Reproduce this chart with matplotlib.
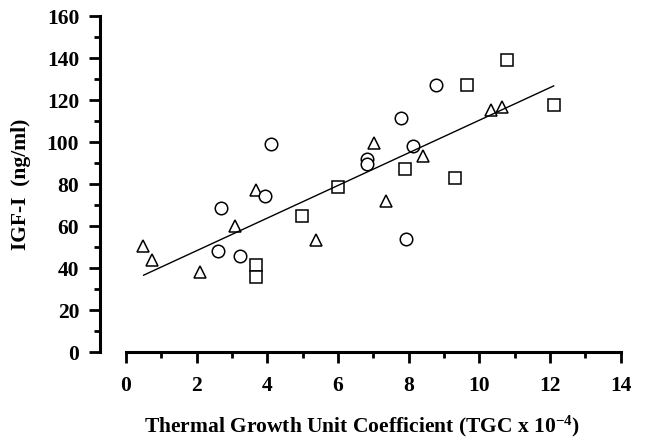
import matplotlib
matplotlib.use("Agg")
import matplotlib.pyplot as plt
import numpy as np
from matplotlib.ticker import MultipleLocator

plt.rcParams["font.family"] = ["Liberation Serif", "DejaVu Serif"]
plt.rcParams["font.weight"] = "bold"
plt.rcParams["mathtext.fontset"] = "custom"
plt.rcParams["mathtext.rm"] = "Liberation Serif:bold"
plt.rcParams["mathtext.bf"] = "Liberation Serif:bold"
plt.rcParams["mathtext.it"] = "Liberation Serif:bold"

# TGC (x 10^-4) and plasma IGF-I (ng/ml) per group
tgc_tri = [0.49, 0.74, 2.09, 3.09, 3.68, 5.39, 7.01, 7.37, 8.39, 10.32, 10.64]
igf_tri = [50.5, 43.8, 37.9, 60.2, 77.1, 53.3, 99.7, 72.1, 93.5, 115.2, 116.5]

tgc_circ = [2.61, 2.69, 3.23, 3.92, 4.10, 6.83, 6.83, 7.77, 8.13, 7.93, 8.76]
igf_circ = [48.1, 68.4, 45.9, 74.1, 98.9, 91.9, 89.5, 111.6, 98.0, 54.0, 127.3]

tgc_sq = [3.69, 3.69, 4.99, 5.99, 7.90, 9.30, 9.65, 10.79, 12.10]
igf_sq = [41.4, 35.9, 64.8, 78.4, 87.1, 83.0, 127.0, 139.0, 117.6]

# regression line
intercept = 32.7
slope = 7.77
fit_x = [0.5, 12.1]

fig = plt.figure(figsize=(6.45, 4.4), dpi=100)
ax = fig.add_axes([0.155, 0.2, 0.813, 0.7636])

mk = dict(linestyle="none", markerfacecolor="white", markeredgecolor="black",
          markeredgewidth=1.1, clip_on=False)
ax.plot(tgc_tri, igf_tri, marker="^", markersize=8.5, **mk)
ax.plot(tgc_circ, igf_circ, marker="o", markersize=9, **mk)
ax.plot(tgc_sq, igf_sq, marker="s", markersize=8, **mk)

fx = np.array(fit_x)
ax.plot(fx, intercept + slope * fx, color="black", linewidth=1.0)

ax.set_xlim(-0.735, 14.1)
ax.set_ylim(0, 160)

for side in ["top", "right"]:
    ax.spines[side].set_visible(False)
ax.spines["left"].set_linewidth(2.2)
ax.spines["bottom"].set_linewidth(2.2)
ax.spines["left"].set_bounds(0, 160)
ax.spines["bottom"].set_bounds(0, 14)

ax.xaxis.set_major_locator(MultipleLocator(2))
ax.xaxis.set_minor_locator(MultipleLocator(1))
ax.yaxis.set_major_locator(MultipleLocator(20))
ax.yaxis.set_minor_locator(MultipleLocator(10))
ax.set_xticks(range(0, 15, 2))

ax.tick_params(axis="both", which="major", length=8, width=2, labelsize=15.5)
ax.tick_params(axis="both", which="minor", length=4, width=2)
ax.tick_params(axis="y", which="major", pad=7)
ax.tick_params(axis="x", which="major", pad=9)

ax.set_xlabel(r"Thermal Growth Unit Coefficient (TGC x 10$^{-4}$)",
              fontsize=15.5, fontweight="bold", labelpad=13)
ax.set_ylabel("IGF-I  (ng/ml)", fontsize=15.5, fontweight="bold", labelpad=11)

fig.savefig("out.png", dpi=100)
